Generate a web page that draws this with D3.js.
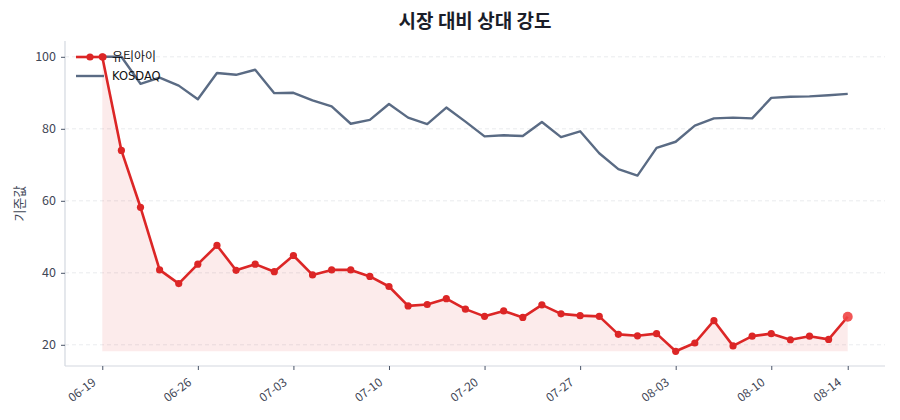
<!DOCTYPE html>
<html><head><meta charset="utf-8">
<script src="https://cdn.jsdelivr.net/npm/d3@7"></script>
<style>
body{margin:0;background:#fff;}
svg{display:block;}
</style></head>
<body><svg id="c" width="900" height="420"></svg>
<script>
const dates = ["06-19","06-20","06-21","06-22","06-23","06-26","06-27","06-28","06-29","06-30",
"07-03","07-04","07-05","07-06","07-07","07-10","07-11","07-12","07-13","07-14",
"07-20","07-21","07-24","07-25","07-26","07-27","07-28","07-31","08-01","08-02",
"08-03","08-04","08-07","08-08","08-09","08-10","08-11","08-12","08-13","08-14"];
const stockName = "유티아이";
const stockValues = [100,74.0,58.2,40.8,37.0,42.4,47.6,40.7,42.4,40.3,
44.8,39.4,40.8,40.8,39.0,36.2,30.8,31.2,32.8,29.9,
27.9,29.4,27.6,31.1,28.6,28.1,27.9,22.9,22.5,23.1,
18.2,20.5,26.7,19.7,22.4,23.1,21.4,22.4,21.5,27.8];
const indexName = "KOSDAQ";
const indexValues = [100,100,92.5,94.2,92.0,88.2,95.5,95.0,96.4,89.9,
90.0,87.9,86.2,81.4,82.5,86.9,83.1,81.3,85.9,82.0,
77.9,78.2,78.0,81.9,77.7,79.3,73.2,68.8,67.0,74.7,
76.4,80.9,82.9,83.1,82.9,88.6,88.9,89.0,89.3,89.7];
const tickIdx = [0,5,10,15,20,25,30,35,39];
const yTicks = [20,40,60,80,100];

const svg = d3.select("#c");
const L=65,R=885,T=41,B=366;
const n = dates.length;
const x = d3.scaleLinear().domain([-(n-1)*0.05,(n-1)*1.05]).range([L,R]);
const allV = stockValues.concat(indexValues);
const vmin = d3.min(allV), vmax = d3.max(allV);
const pad=(vmax-vmin)*0.05;
const y = d3.scaleLinear().domain([vmin-pad, vmax+pad+0.3]).range([B,T]);

const sans = "'Noto Sans CJK KR','Noto Sans',sans-serif";

// grid
svg.append("g").selectAll("line").data(yTicks).join("line")
 .attr("x1",L).attr("x2",R).attr("y1",d=>y(d)).attr("y2",d=>y(d))
 .attr("stroke","#e3e6ea").attr("stroke-width",0.8).attr("stroke-dasharray","4,3");

// fill
const fmin = d3.min(stockValues);
const area = d3.area().x((d,i)=>x(i)).y0(y(fmin)).y1(d=>y(d));
svg.append("path").datum(stockValues).attr("d",area).attr("fill","#dc2626").attr("fill-opacity",0.09);

// index line
const line = d3.line().x((d,i)=>x(i)).y(d=>y(d));
svg.append("path").datum(indexValues).attr("d",line).attr("fill","none")
 .attr("stroke","#5a6b84").attr("stroke-width",2.4).attr("stroke-linejoin","round");

// stock line
svg.append("path").datum(stockValues).attr("d",line).attr("fill","none")
 .attr("stroke","#dc2626").attr("stroke-width",2.6).attr("stroke-linejoin","round");
svg.append("g").selectAll("circle").data(stockValues.slice(0,n-1)).join("circle")
 .attr("cx",(d,i)=>x(i)).attr("cy",d=>y(d)).attr("r",3.6).attr("fill","#dc2626");
svg.append("circle").attr("cx",x(n-1)).attr("cy",y(stockValues[n-1])).attr("r",5)
 .attr("fill","#ef4444").attr("fill-opacity",0.9);

// axes
const ax = d3.axisLeft(y).tickValues(yTicks).tickSize(4).tickPadding(5);
const gy = svg.append("g").attr("transform",`translate(${L},0)`).call(ax);
gy.select(".domain").attr("d",`M0,${T}V${B}`).attr("stroke","#d3d8df").attr("stroke-width",1.2);
gy.selectAll(".tick line").attr("stroke","#4a5568");
gy.selectAll("text").attr("font-family",sans).attr("font-size",12.5).attr("fill","#3f4756");

const axb = d3.axisBottom(x).tickValues(tickIdx).tickFormat(i=>dates[i]).tickSize(4).tickPadding(4);
const gx = svg.append("g").attr("transform",`translate(0,${B})`).call(axb);
gx.select(".domain").attr("d",`M${L},0H${R}`).attr("stroke","#d3d8df").attr("stroke-width",1.2);
gx.selectAll(".tick line").attr("stroke","#4a5568");
gx.selectAll("text").attr("font-family",sans).attr("font-size",12).attr("fill","#3f4756")
 .attr("text-anchor","end").attr("x",0).attr("y",0).attr("dy",0)
 .attr("transform","translate(-6,18) rotate(-37)");

// y label
svg.append("text").attr("transform",`translate(24,${(T+B)/2}) rotate(-90)`)
 .attr("text-anchor","middle").attr("font-family",sans).attr("font-size",13).attr("fill","#3f4756").text("기준값");

// title
svg.append("text").attr("x",475).attr("y",28).attr("text-anchor","middle")
 .attr("font-family",sans).attr("font-size",19).attr("font-weight","bold").attr("fill","#1a1d29")
 .text("시장 대비 상대 강도");

// legend
const lg = svg.append("g");
lg.append("line").attr("x1",76).attr("x2",104).attr("y1",57).attr("y2",57).attr("stroke","#dc2626").attr("stroke-width",2.6);
lg.append("circle").attr("cx",90).attr("cy",57).attr("r",3.6).attr("fill","#dc2626");
lg.append("circle").attr("cx",103).attr("cy",57).attr("r",3.6).attr("fill","#dc2626");
lg.append("text").attr("x",112).attr("y",57).attr("dy","0.35em").attr("font-family",sans).attr("font-size",12).attr("fill","#111").text(stockName);
lg.append("line").attr("x1",76).attr("x2",104).attr("y1",76).attr("y2",76).attr("stroke","#5a6b84").attr("stroke-width",2.4);
lg.append("text").attr("x",112).attr("y",76).attr("dy","0.35em").attr("font-family","'DejaVu Sans',sans-serif").attr("font-size",11.5).attr("fill","#111").text(indexName);
</script>
</body></html>
